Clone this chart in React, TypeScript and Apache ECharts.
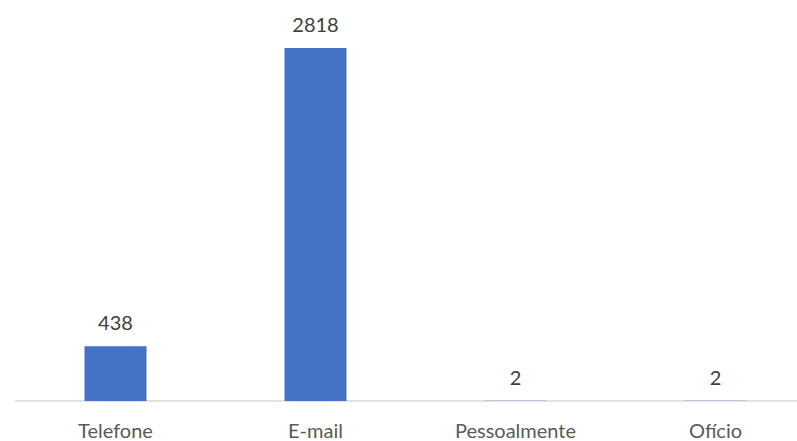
import React, { useEffect, useRef } from "react";
import * as echarts from "echarts";

const categories = ["Telefone", "E-mail", "Pessoalmente", "Ofício"];
const values = [438, 2818, 2, 2];

export default function App() {
  const ref = useRef<HTMLDivElement>(null);
  useEffect(() => {
    if (!ref.current) return;
    const chart = echarts.init(ref.current, undefined, { renderer: "svg" });
    chart.setOption({
      animation: false,
      backgroundColor: "#ffffff",
      grid: { left: 15.5, width: 800, top: 25.2, height: 375.8 },
      xAxis: {
        type: "category",
        data: categories,
        axisLine: { lineStyle: { color: "#d9d9d9", width: 1.5 } },
        axisTick: { show: false },
        axisLabel: { color: "#595959", fontSize: 20, fontFamily: "Lato", margin: 19 },
      },
      yAxis: {
        type: "value",
        min: 0,
        max: 3000,
        show: false,
        splitLine: { show: false },
      },
      series: [
        {
          type: "bar",
          data: values,
          barWidth: 62,
          itemStyle: { color: "#4472c4" },
          label: {
            show: true,
            position: "top",
            distance: 14,
            color: "#404040",
            fontSize: 20,
            fontFamily: "Lato",
          },
        },
      ],
    });
    return () => chart.dispose();
  }, []);
  return (
    <div style={{ position: "absolute", left: 0, top: 0, width: 797, height: 441, overflow: "hidden" }}>
      <div ref={ref} style={{ width: 820, height: 441 }} />
    </div>
  );
}
